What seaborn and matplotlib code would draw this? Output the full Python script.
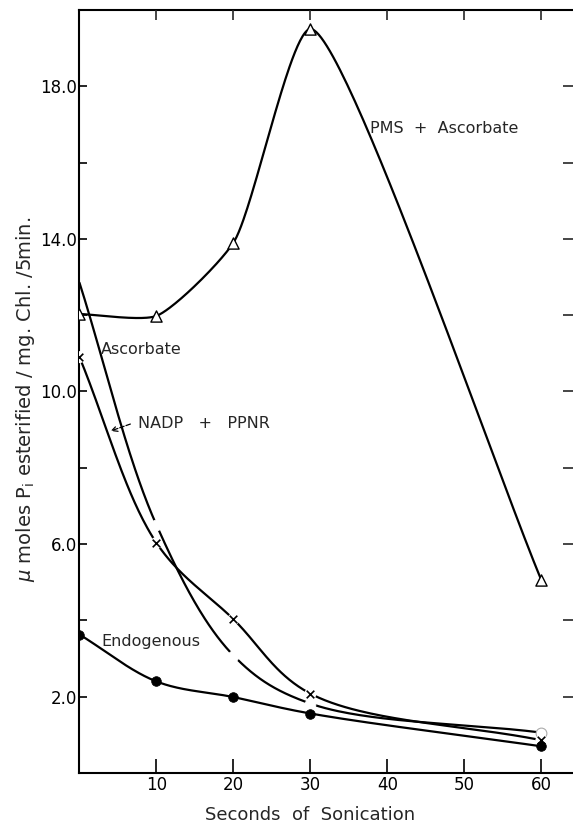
import numpy as np
import pandas as pd
import matplotlib
matplotlib.use("Agg")
import matplotlib.pyplot as plt
import seaborn as sns

# ---- data ----
seconds = [0, 10, 20, 30, 60]
pms_ascorbate = [12.03, 11.98, 13.9, 19.5, 5.05]
ascorbate = [12.85, 6.5, 3.08, 1.82, 1.06]
nadp_ppnr = [10.9, 6.03, 4.03, 2.08, 0.86]
endogenous = [3.63, 2.40, 1.99, 1.56, 0.70]

x_ticks = [10, 20, 30, 40, 50, 60]
y_major = [2.0, 6.0, 10.0, 14.0, 18.0]
y_minor = [4.0, 8.0, 12.0, 16.0]
y_right = [2, 4, 6, 8, 10, 12, 14, 16, 18]

sns.set_style("ticks")
plt.rcParams["font.family"] = ["DejaVu Sans"]


def catmull_rom(P, tension=0.0, n=60, alpha=0.5):
    """Centripetal Catmull-Rom (Hermite form) curve through points P."""
    P = np.asarray(P, float)
    ext = np.vstack([2 * P[0] - P[1], P, 2 * P[-1] - P[-2]])
    out = []
    u = np.linspace(0, 1, n)[:, None]
    h00 = 2 * u**3 - 3 * u**2 + 1
    h10 = u**3 - 2 * u**2 + u
    h01 = -2 * u**3 + 3 * u**2
    h11 = u**3 - u**2
    for i in range(1, len(ext) - 2):
        p0, p1, p2, p3 = ext[i - 1], ext[i], ext[i + 1], ext[i + 2]
        d01 = np.linalg.norm(p1 - p0) ** alpha
        d12 = np.linalg.norm(p2 - p1) ** alpha
        d23 = np.linalg.norm(p3 - p2) ** alpha
        m1 = ((p1 - p0) / d01 - (p2 - p0) / (d01 + d12) + (p2 - p1) / d12) * d12
        m2 = ((p2 - p1) / d12 - (p3 - p1) / (d12 + d23) + (p3 - p2) / d23) * d12
        m1 *= (1 - tension)
        m2 *= (1 - tension)
        c = h00 * p1 + h10 * m1 + h01 * p2 + h11 * m2
        out.append(c if i == 1 else c[1:])
    return np.vstack(out)


fig = plt.figure(figsize=(5.73, 8.25), dpi=100)
ax = fig.add_axes([0.1387, 0.063, 0.8613, 0.925])
ax.set_xlim(0, 64.1)
ax.set_ylim(0, 20.0)

series = {
    "PMS + Ascorbate": (pms_ascorbate, 0.4),
    "Ascorbate": (ascorbate, 0.0),
    "NADP + PPNR": (nadp_ppnr, 0.0),
    "Endogenous": (endogenous, 0.0),
}
frames = []
for name, (vals, tens) in series.items():
    disp = ax.transData.transform(np.column_stack([seconds, vals]))
    curve = ax.transData.inverted().transform(catmull_rom(disp, tension=tens))
    frames.append(pd.DataFrame({"x": curve[:, 0], "y": curve[:, 1], "s": name}))
curves = pd.concat(frames, ignore_index=True)
sns.lineplot(data=curves, x="x", y="y", units="s", estimator=None, sort=False,
             color="black", lw=1.6, ax=ax, legend=False, zorder=2)

pts = lambda xv, v: pd.DataFrame({"x": xv, "y": v})

# white gaps on the Ascorbate curve, open circle at the last point
sns.scatterplot(data=pts(seconds[1:4], ascorbate[1:4]), x="x", y="y", marker="o",
                s=60, color="white", edgecolor="white", ax=ax, zorder=3)
sns.scatterplot(data=pts(seconds[4:], ascorbate[4:]), x="x", y="y", marker="o",
                s=60, color="white", edgecolor="#aaaaaa", linewidth=0.8, ax=ax, zorder=3)
sns.scatterplot(data=pts(seconds, nadp_ppnr), x="x", y="y", marker="o", s=75,
                color="white", edgecolor="none", ax=ax, zorder=3)
sns.scatterplot(data=pts(seconds, nadp_ppnr), x="x", y="y", marker="x", s=30,
                color="black", linewidth=1.2, ax=ax, zorder=4)
sns.scatterplot(data=pts(seconds, pms_ascorbate), x="x", y="y", marker="^", s=65,
                facecolor="white", edgecolor="black", linewidth=1.0, ax=ax, zorder=4)
sns.scatterplot(data=pts(seconds, endogenous), x="x", y="y", marker="o", s=48,
                color="black", edgecolor="black", ax=ax, zorder=4)

ax.set_xlim(0, 64.1)
ax.set_ylim(0, 20.0)

ax.set_xticks(x_ticks)
ax.set_xticklabels([str(v) for v in x_ticks], fontsize=12)
ax.set_yticks(y_major)
ax.set_yticklabels([f"{v:.1f}" for v in y_major], fontsize=12)
ax.set_yticks(y_minor, minor=True)
ax.tick_params(axis="y", which="both", direction="in", length=6, width=1.2,
               pad=2, colors="black")
ax.tick_params(axis="x", which="both", direction="in", length=10, width=1.2,
               pad=2, colors="black", top=False)

# top ticks (shorter) and right ticks via twin axes
axt = ax.twiny()
axt.set_xlim(ax.get_xlim())
axt.set_xticks(x_ticks)
axt.set_xticklabels([])
axt.tick_params(axis="x", direction="in", length=7.5, width=1.2, top=True)
ax2 = ax.twinx()
ax2.set_ylim(ax.get_ylim())
ax2.set_yticks(y_right)
ax2.set_yticklabels([])
ax2.tick_params(axis="y", direction="in", length=7.5, width=1.2, right=True)
for a in (axt, ax2):
    for s in a.spines.values():
        s.set_visible(False)

for side in ["left", "bottom", "top"]:
    ax.spines[side].set_linewidth(1.5)
    ax.spines[side].set_color("black")
ax.spines["right"].set_visible(False)

ax.set_xlabel("Seconds  of  Sonication", fontsize=13)
ax.xaxis.set_label_coords(0.467, -0.043)
ax.set_ylabel(r"$\mu$ moles P$_\mathregular{i}$ esterified / mg. Chl. /5min.",
              fontsize=14)
ax.yaxis.set_label_coords(-0.087, 0.49)

ax.text(37.7, 16.9, "PMS  +  Ascorbate", fontsize=11.5, ha="left", va="center")
ax.text(2.8, 11.1, "Ascorbate", fontsize=11.5, ha="left", va="center")
ax.text(7.6, 9.15, "NADP   +   PPNR", fontsize=11.5, ha="left", va="center")
ax.text(2.8, 3.45, "Endogenous", fontsize=11.5, ha="left", va="center")
ax.annotate("", xy=(3.7, 8.94), xytext=(6.95, 9.17),
            arrowprops=dict(arrowstyle="->", lw=0.9, ls="--", color="black"))

fig.savefig("out.png", dpi=100)
